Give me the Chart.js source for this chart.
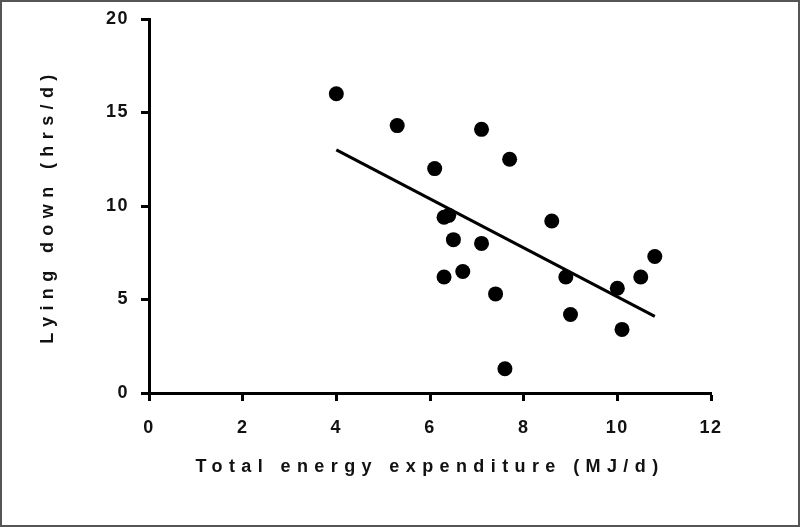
<!DOCTYPE html>
<html>
<head>
<meta charset="utf-8">
<script src="https://cdn.jsdelivr.net/npm/chart.js@4.4.1/dist/chart.umd.min.js"></script>
<style>
  html, body { margin: 0; padding: 0; background: #fff; }
  #wrap { width: 800px; height: 527px; }
</style>
</head>
<body>
<div id="wrap"><canvas id="scatter" width="800" height="527"></canvas></div>
<script>
// Total energy expenditure (MJ/d)
const energy = [4.0, 5.3, 6.1, 7.1, 7.7, 6.3, 6.4, 6.5, 7.1, 8.6, 6.3, 6.7, 7.4, 8.9, 9.0, 7.6, 10.0, 10.1, 10.5, 10.8];
// Lying down (hrs/d)
const lying  = [16.0, 14.3, 12.0, 14.1, 12.5, 9.4, 9.5, 8.2, 8.0, 9.2, 6.2, 6.5, 5.3, 6.2, 4.2, 1.3, 5.6, 3.4, 6.2, 7.3];

// fitted line, endpoints
const fitX = [4.0, 10.8];
const fitY = [13.0, 4.1];

const xTicks = [0, 2, 4, 6, 8, 10, 12];
const yTicks = [0, 5, 10, 15, 20];

const ink = '#111';

// canvas letterSpacing for the axis titles / tick labels
const spacingPlugin = {
    id: 'spacing',
    beforeDraw(chart) {
        Object.values(chart.scales).forEach(scale => {
            if (scale._spaced) return;
            scale._spaced = true;
            const drawTitle = scale.drawTitle;
            const drawLabels = scale.drawLabels;
            scale.drawTitle = function () {
                const ctx = this.ctx;
                ctx.save();
                ctx.letterSpacing = '6.4px';
                drawTitle.apply(this, arguments);
                ctx.restore();
            };
            scale.drawLabels = function () {
                const ctx = this.ctx;
                ctx.save();
                ctx.letterSpacing = '1.5px';
                drawLabels.apply(this, arguments);
                ctx.restore();
            };
        });
    },
    afterDraw(chart) {
        // outer frame
        const ctx = chart.ctx;
        ctx.save();
        ctx.strokeStyle = '#555';
        ctx.lineWidth = 2;
        ctx.strokeRect(1, 1, chart.width - 2, chart.height - 2);
        ctx.restore();
    }
};

const ctx = document.getElementById('scatter').getContext('2d');
new Chart(ctx, {
    type: 'scatter',
    data: {
        datasets: [{
            label: 'Subjects',
            data: energy.map((x, i) => ({ x: x, y: lying[i] })),
            backgroundColor: '#000',
            borderWidth: 0,
            pointRadius: 7.5,
            order: 1
        }, {
            type: 'line',
            label: 'Fit',
            data: fitX.map((x, i) => ({ x: x, y: fitY[i] })),
            borderColor: '#000',
            borderWidth: 3,
            pointRadius: 0,
            fill: false,
            order: 2
        }]
    },
    options: {
        responsive: false,
        animation: false,
        events: [],
        layout: { padding: { left: 0, right: 89, top: 19, bottom: 0 } },
        plugins: {
            legend: { display: false },
            tooltip: { enabled: false }
        },
        scales: {
            x: {
                type: 'linear',
                min: 0,
                max: 12,
                afterBuildTicks: s => { s.ticks = xTicks.map(v => ({ value: v })); },
                afterFit: s => { s.height = 134; s.paddingLeft = 0; s.paddingRight = 0; },
                border: { display: true, color: '#000', width: 3 },
                grid: { drawOnChartArea: false, drawTicks: true, tickLength: 8, tickWidth: 3, tickColor: '#000' },
                ticks: {
                    color: ink,
                    padding: 16,
                    font: { family: 'Liberation Sans, Arial, sans-serif', size: 18, weight: 'bold' }
                },
                title: {
                    display: true,
                    text: 'Total energy expenditure (MJ/d)',
                    color: ink,
                    padding: { top: 0, bottom: 49 },
                    font: { family: 'Liberation Sans, Arial, sans-serif', size: 18, weight: 'bold' }
                }
            },
            y: {
                type: 'linear',
                min: 0,
                max: 20,
                afterBuildTicks: s => { s.ticks = yTicks.map(v => ({ value: v })); },
                afterFit: s => { s.width = 149; s.paddingTop = 0; s.paddingBottom = 0; },
                border: { display: true, color: '#000', width: 3 },
                grid: { drawOnChartArea: false, drawTicks: true, tickLength: 8, tickWidth: 3, tickColor: '#000' },
                ticks: {
                    color: ink,
                    padding: 12,
                    font: { family: 'Liberation Sans, Arial, sans-serif', size: 18, weight: 'bold', lineHeight: 1 }
                },
                title: {
                    display: true,
                    text: 'Lying down (hrs/d)',
                    color: ink,
                    padding: { top: 37, bottom: 0 },
                    font: { family: 'Liberation Sans, Arial, sans-serif', size: 18, weight: 'bold' }
                }
            }
        }
    },
    plugins: [spacingPlugin]
});
</script>
</body>
</html>
